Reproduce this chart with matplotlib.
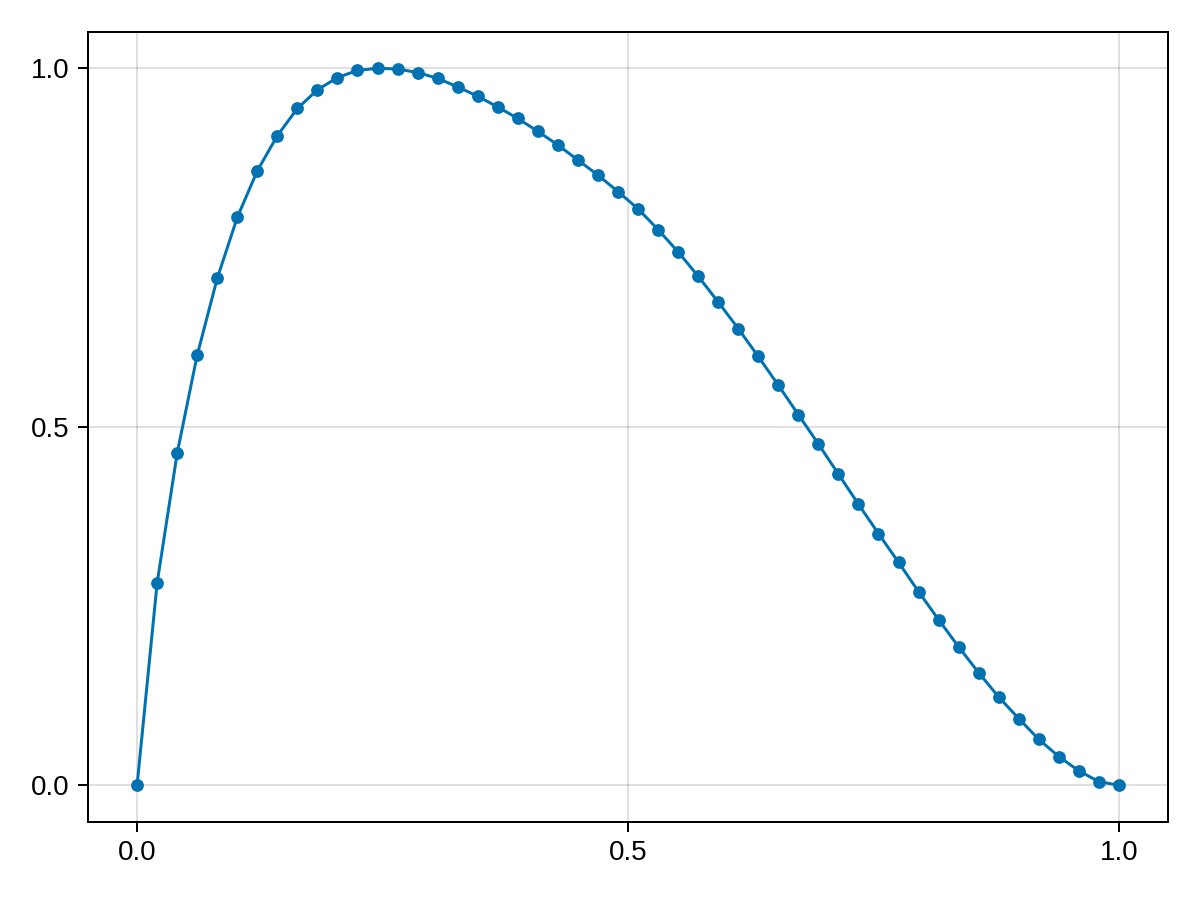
import matplotlib
matplotlib.use("Agg")
import matplotlib.pyplot as plt
import numpy as np

# Data (50 equally spaced samples on [0, 1])
x_values = np.linspace(0.0, 1.0, 50)
y_values = [
    0.000, 0.282, 0.463, 0.600, 0.707, 0.792, 0.857, 0.906, 0.944, 0.970,
    0.987, 0.997, 1.000, 0.999, 0.994, 0.986, 0.974, 0.961, 0.946, 0.930,
    0.912, 0.893, 0.872, 0.851, 0.828, 0.804, 0.775, 0.744, 0.710, 0.674,
    0.637, 0.598, 0.558, 0.517, 0.476, 0.434, 0.392, 0.351, 0.311, 0.270,
    0.231, 0.193, 0.157, 0.123, 0.093, 0.064, 0.040, 0.020, 0.005, 0.000,
]
x_ticks = [0.0, 0.5, 1.0]
y_ticks = [0.0, 0.5, 1.0]
tick_labels = ["0.0", "0.5", "1.0"]

plt.rcParams["font.family"] = ["Liberation Sans", "DejaVu Sans"]

fig = plt.figure(figsize=(12, 9), dpi=100)
ax = fig.add_axes([88 / 1200, 78 / 900, 1080 / 1200, 790 / 900])

color = "#0072B2"
ax.plot(x_values, y_values, color=color, linewidth=2.16, zorder=3)
ax.scatter(x_values, y_values, s=9.2 ** 2, color=color, zorder=4, linewidths=0)

ax.set_xlim(-0.05, 1.05)
ax.set_ylim(-0.0513, 1.0506)
ax.set_xticks(x_ticks)
ax.set_xticklabels(tick_labels)
ax.set_yticks(y_ticks)
ax.set_yticklabels(tick_labels)

ax.grid(True, color="#000000", alpha=0.12, linewidth=1.44, zorder=0)
ax.set_axisbelow(True)
for s in ax.spines.values():
    s.set_linewidth(1.44)
    s.set_color("black")
ax.tick_params(axis="both", direction="out", length=7.2, width=1.44,
               labelsize=20, color="black", labelcolor="black")
ax.tick_params(axis="x", pad=6)
ax.tick_params(axis="y", pad=6)

fig.savefig("out.png", dpi=100)
